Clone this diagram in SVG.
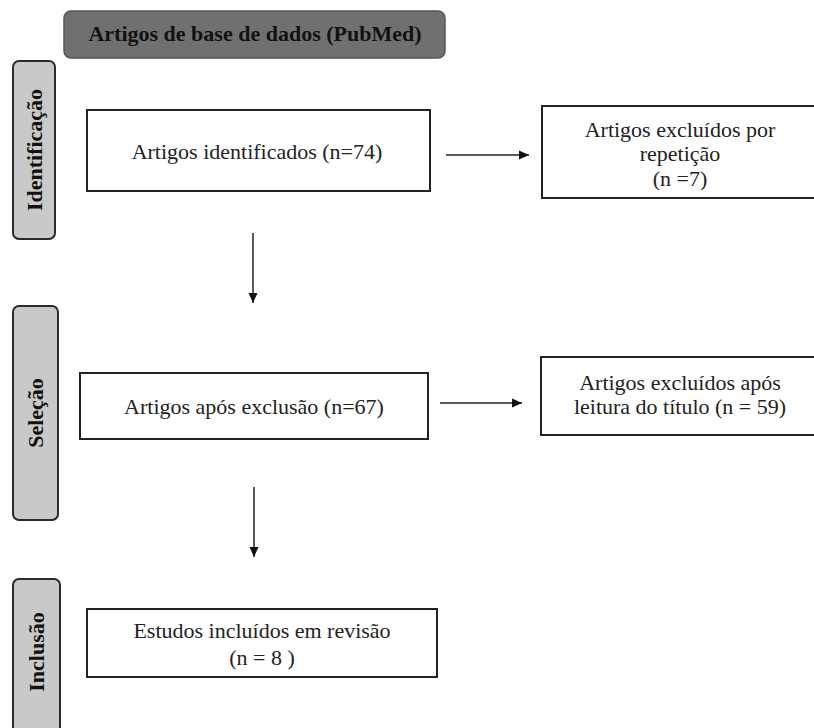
<svg xmlns="http://www.w3.org/2000/svg" width="814" height="728" viewBox="0 0 814 728">
<style>
.box{fill:#fff;stroke:#222;stroke-width:2}
.side{fill:#c9c9c9;stroke:#2a2a2a;stroke-width:2}
.t{font-family:"Liberation Serif","Times New Roman",serif;font-size:22px;fill:#222;text-anchor:middle}
.b{font-family:"Liberation Serif","Times New Roman",serif;font-size:22px;font-weight:bold;fill:#111;text-anchor:middle}
.c{stroke:#222;stroke-width:1.5;fill:none;marker-end:url(#ah)}
</style>
<defs>
<marker id="ah" viewBox="0 0 10 10" refX="10" refY="5" markerWidth="10" markerHeight="10" markerUnits="userSpaceOnUse" orient="auto">
<path d="M0,0.5 L10,5 L0,9.5 z" fill="#111"/>
</marker>
</defs>
<g id="title">
<rect x="64" y="11" width="381" height="47" rx="7" fill="#707070" stroke="#555" stroke-width="1.5"/>
<text class="b" x="255" y="41">Artigos de base de dados (PubMed)</text>
</g>
<g id="phase-identificacao">
<rect class="side" x="13" y="61" width="42" height="178" rx="6"/>
<text class="b" transform="translate(42,150) rotate(-90)">Identificação</text>
</g>
<g id="phase-selecao">
<rect class="side" x="13" y="306" width="45" height="214" rx="6"/>
<text class="b" transform="translate(43,413) rotate(-90)">Seleção</text>
</g>
<g id="phase-inclusao">
<rect class="side" x="13" y="579" width="47" height="160" rx="6"/>
<text class="b" transform="translate(44,652) rotate(-90)">Inclusão</text>
</g>
<g id="n1">
<rect class="box" x="87" y="110" width="343" height="81"/>
<text class="t" x="257" y="159">Artigos identificados (n=74)</text>
</g>
<g id="n2">
<rect class="box" x="542" y="106" width="280" height="92"/>
<text class="t" x="680" y="137">Artigos excluídos por</text>
<text class="t" x="680" y="161">repetição</text>
<text class="t" x="680" y="186">(n =7)</text>
</g>
<g id="n3">
<rect class="box" x="80" y="373" width="348" height="66"/>
<text class="t" x="254" y="414">Artigos após exclusão (n=67)</text>
</g>
<g id="n4">
<rect class="box" x="541" y="357" width="280" height="78"/>
<text class="t" x="680" y="390">Artigos excluídos após</text>
<text class="t" x="680" y="414">leitura do título (n = 59)</text>
</g>
<g id="n5">
<rect class="box" x="87" y="609" width="350" height="68"/>
<text class="t" x="262" y="638">Estudos incluídos em revisão</text>
<text class="t" x="262" y="665">(n = 8 )</text>
</g>
<g id="connectors">
<line class="c" x1="446" y1="155" x2="529" y2="155"/>
<line class="c" x1="253" y1="233" x2="253" y2="303"/>
<line class="c" x1="440" y1="403" x2="522" y2="403"/>
<line class="c" x1="254" y1="487" x2="254" y2="557"/>
</g>
</svg>
